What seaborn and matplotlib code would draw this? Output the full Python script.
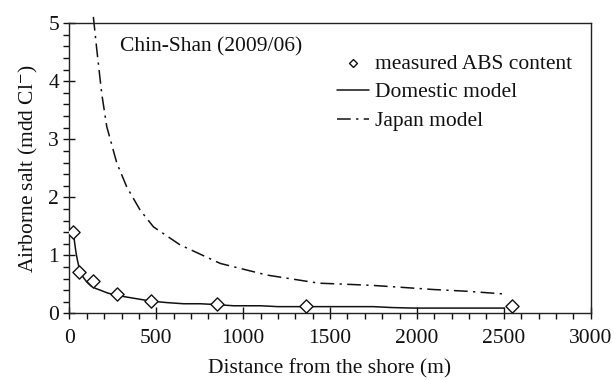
import matplotlib
matplotlib.use("Agg")
import matplotlib.pyplot as plt
import seaborn as sns
import pandas as pd
from matplotlib.ticker import MultipleLocator

# Measured airborne salt (ABS) at Chin-Shan, June 2009
measured_dist = [23, 58, 138, 273, 470, 849, 1359, 2547]
measured_salt = [1.41, 0.71, 0.56, 0.33, 0.21, 0.16, 0.13, 0.12]

# Domestic model curve
domestic_dist = [23, 30, 38, 46, 55, 66, 80, 100, 125, 150, 177, 220, 273, 330, 400, 470,
                 560, 656, 752, 850, 944, 1100, 1200, 1359, 1500, 1750, 1850, 1950, 2000,
                 2250, 2502]
domestic_salt = [1.41, 1.22, 1.05, 0.92, 0.80, 0.70, 0.62, 0.54, 0.47, 0.43, 0.40, 0.35,
                 0.31, 0.28, 0.245, 0.21, 0.185, 0.165, 0.165, 0.15, 0.13, 0.13, 0.115,
                 0.115, 0.115, 0.115, 0.10, 0.092, 0.09, 0.09, 0.09]

# Japan model curve
japan_dist = [138, 158, 186, 215, 273, 330, 407, 484, 637, 868, 1136, 1434, 1600, 1750,
              1902, 2096, 2288, 2518]
japan_salt = [5.11, 4.54, 3.79, 3.22, 2.59, 2.18, 1.78, 1.49, 1.18, 0.86, 0.66, 0.52,
              0.50, 0.48, 0.45, 0.41, 0.38, 0.33]

x_ticks = [0, 500, 1000, 1500, 2000, 2500, 3000]
y_ticks = [0, 1, 2, 3, 4, 5]

sns.set_theme(style="ticks")
plt.rcParams["font.family"] = ["Liberation Serif", "DejaVu Serif"]
plt.rcParams["mathtext.fontset"] = "stix"

measured = pd.DataFrame({"dist": measured_dist, "salt": measured_salt})
domestic = pd.DataFrame({"dist": domestic_dist, "salt": domestic_salt})
japan = pd.DataFrame({"dist": japan_dist, "salt": japan_salt})

fig = plt.figure(figsize=(6.14, 3.80), dpi=100)
ax = fig.add_axes([0.113, 0.1755, 0.849, 0.7632])

sns.lineplot(data=domestic, x="dist", y="salt", ax=ax, color="#111111", lw=1.1,
             label="Domestic model", sort=False)
sns.lineplot(data=japan, x="dist", y="salt", ax=ax, color="#111111", lw=1.1,
             linestyle=(0, (9, 3.5, 1.5, 3.5)), label="Japan model", sort=False,
             clip_on=False)
sns.scatterplot(data=measured, x="dist", y="salt", ax=ax, marker="D", s=45,
                facecolor="white", edgecolor="#111111", linewidth=1.0,
                label="measured ABS content", zorder=5)

ax.set_xlim(0, 3000)
ax.set_ylim(0, 5)
ax.set_xticks(x_ticks)
ax.set_yticks(y_ticks)
ax.xaxis.set_minor_locator(MultipleLocator(100))
ax.yaxis.set_minor_locator(MultipleLocator(0.2))
ax.tick_params(which="major", direction="inout", length=8, width=1.0,
               labelsize=15.5, colors="#111111")
ax.tick_params(axis="x", which="major", pad=7)
ax.tick_params(which="minor", direction="out", length=4, width=1.0, colors="#111111")
for sp in ax.spines.values():
    sp.set_visible(True)
    sp.set_color("#222222")
    sp.set_linewidth(1.0)

ax.set_xlabel("Distance from the shore (m)", fontsize=15.5, color="#111111", labelpad=8)
ax.set_ylabel(r"Airborne salt (mdd Cl$^{-}$)", fontsize=15.5, color="#111111", labelpad=6)

ax.text(292, 4.60, "Chin-Shan (2009/06)", fontsize=15.5, color="#111111", va="center")

handles, labels = ax.get_legend_handles_labels()
order = [labels.index("measured ABS content"), labels.index("Domestic model"),
         labels.index("Japan model")]
leg = ax.legend([handles[i] for i in order], [labels[i] for i in order],
                loc="upper left", bbox_to_anchor=(0.496, 0.925), frameon=False,
                fontsize=15.5, handlelength=1.5, handletextpad=0.3,
                labelspacing=0.40, markerscale=0.6, borderaxespad=0)
for t in leg.get_texts():
    t.set_color("#111111")

fig.savefig("out.png", dpi=100)
